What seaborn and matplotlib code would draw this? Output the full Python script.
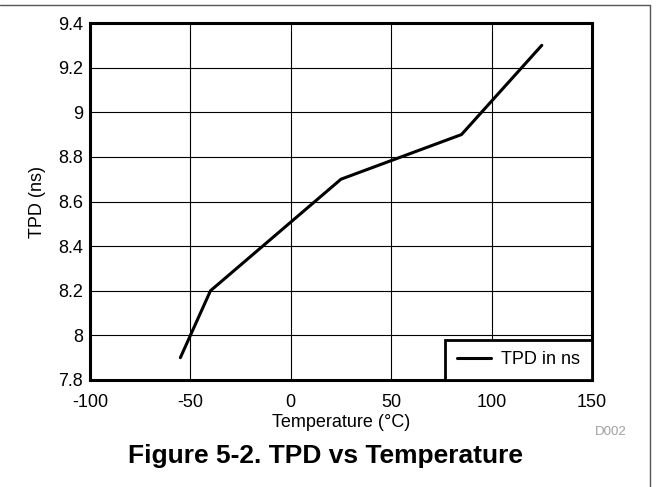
import matplotlib
matplotlib.use('Agg')
import matplotlib.pyplot as plt
import seaborn as sns
import pandas as pd
from matplotlib.lines import Line2D

temperature = [-55, -40, 25, 85, 125]
tpd_ns = [7.9, 8.2, 8.7, 8.9, 9.3]
x_ticks = [-100, -50, 0, 50, 100, 150]
y_ticks = [7.8, 8.0, 8.2, 8.4, 8.6, 8.8, 9.0, 9.2, 9.4]
y_labels = ['7.8', '8', '8.2', '8.4', '8.6', '8.8', '9', '9.2', '9.4']

data = pd.DataFrame({'Temperature': temperature, 'TPD': tpd_ns})

sns.set_style('white')
plt.rcParams['font.family'] = ['Liberation Sans', 'DejaVu Sans']
plt.rcParams['axes.unicode_minus'] = False
plt.rcParams['text.color'] = 'black'
plt.rcParams['axes.labelcolor'] = 'black'

fig = plt.figure(figsize=(6.58, 4.87), dpi=100)
ax = fig.add_axes([90 / 658, 1 - 380 / 487, 502 / 658, 357 / 487])

sns.lineplot(data=data, x='Temperature', y='TPD', color='black', linewidth=2.2,
             ax=ax, label='TPD in ns')

ax.set_xlim(-100, 150)
ax.set_ylim(7.8, 9.4)
ax.set_xticks(x_ticks)
ax.set_yticks(y_ticks)
ax.set_yticklabels(y_labels)
ax.tick_params(labelsize=13, length=0, colors='black', labelcolor='black')
ax.tick_params(axis='x', pad=10)
ax.tick_params(axis='y', pad=5)
ax.grid(True, color='black', linewidth=0.8)
for s in ax.spines.values():
    s.set_linewidth(2.2)
    s.set_color('black')

ax.set_xlabel('Temperature (°C)', fontsize=13, labelpad=2, color='black')
ax.set_ylabel('TPD (ns)', fontsize=13, labelpad=9, color='black')

leg = ax.legend(loc='lower right', fontsize=13, frameon=True, fancybox=False,
                borderaxespad=0, handlelength=1.9, handletextpad=0.55,
                borderpad=0.65, labelcolor='black')
leg.get_frame().set_edgecolor('black')
leg.get_frame().set_linewidth(2)
leg.get_frame().set_alpha(1)

fig.text(627 / 658, 1 - 432 / 487, 'D002', fontsize=9.5, color='#a0a0a0',
         ha='right', va='center')
fig.text(325 / 658, 1 - 456 / 487, 'Figure 5-2. TPD vs Temperature',
         fontsize=19, fontweight='bold', ha='center', va='center', color='black')

fig.add_artist(Line2D([0, 650 / 658], [1 - 5 / 487, 1 - 5 / 487], color='#555555',
                      linewidth=1, transform=fig.transFigure))
fig.add_artist(Line2D([650 / 658, 650 / 658], [0, 1 - 5 / 487], color='#555555',
                      linewidth=1, transform=fig.transFigure))

fig.savefig('out.png', dpi=100)
